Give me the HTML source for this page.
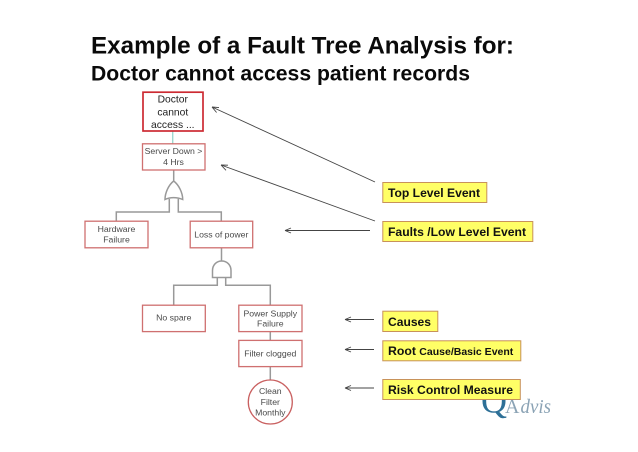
<!DOCTYPE html>
<html>
<head>
<meta charset="utf-8">
<style>
html,body{margin:0;padding:0;background:#fff;}
svg{display:block;}
text{font-family:"Liberation Sans",sans-serif;}
</style>
</head>
<body>
<svg xmlns="http://www.w3.org/2000/svg" width="638" height="452" viewBox="0 0 638 452">
<defs>
<filter id="b" x="-5%" y="-5%" width="110%" height="110%"><feGaussianBlur stdDeviation="0.35"/></filter>
</defs>
<rect width="638" height="452" fill="#fff"/>

<text x="91" y="53.5" font-size="24" font-weight="bold" fill="#0a0a0a" textLength="423" lengthAdjust="spacingAndGlyphs">Example of a Fault Tree Analysis for:</text>
<text x="91" y="80.3" font-size="21" font-weight="bold" fill="#0a0a0a" textLength="379" lengthAdjust="spacingAndGlyphs">Doctor cannot access patient records</text>

<g filter="url(#b)">
<!-- connectors -->
<g fill="none" stroke="#999" stroke-width="1.5">
<path d="M173.7 170V181"/>
<path d="M169.3 199V212H116.3V221"/>
<path d="M178.3 199V212H221.3V221"/>
<path d="M221.5 248V261"/>
<path d="M217.3 278V285.3H173.7V305"/>
<path d="M225.7 278V285.3H270.3V305"/>
<path d="M270.3 331.7V340.3"/>
<path d="M270.3 366.7V380"/>
<!-- OR gate -->
<path d="M173.7 181C179 185 182.7 193 182.7 199.5C177 197 170 197 165 199.5C165 193 168.5 185 173.7 181Z"/>
<!-- AND gate -->
<path d="M212.5 277.5V270.5C212.5 265 216.5 261 221.7 261C227 261 231 265 231 270.5V277.5Z"/>
</g>
<path d="M172.7 131V144" stroke="#9fd8d0" stroke-width="1.4"/>

<!-- boxes -->
<g fill="#fff" stroke="#cf6f6f" stroke-width="1.3">
<rect x="142.5" y="143.8" width="62.5" height="26.2"/>
<rect x="85" y="221.2" width="63" height="26.6"/>
<rect x="190.2" y="221.2" width="62.5" height="26.6"/>
<rect x="142.5" y="305.2" width="62.8" height="26.4"/>
<rect x="238.8" y="305.2" width="63.2" height="26.4"/>
<rect x="238.8" y="340.4" width="63.2" height="26.2"/>
</g>
<circle cx="270.3" cy="402" r="22" fill="#fff" stroke="#c96060" stroke-width="1.3"/>
<rect x="143" y="92.2" width="60" height="38.8" fill="#fff" stroke="#cc2a33" stroke-width="1.7"/>

<!-- tree labels -->
<g font-size="8.7" fill="#4a4a4a" text-anchor="middle">
<text x="173.5" y="154">Server Down &gt;</text>
<text x="173.5" y="165">4 Hrs</text>
<text x="116.5" y="232">Hardware</text>
<text x="116.5" y="242.4">Failure</text>
<text x="221.3" y="237.3">Loss of power</text>
<text x="173.8" y="320.7">No spare</text>
<text x="270.3" y="316.3">Power Supply</text>
<text x="270.3" y="326.7">Failure</text>
<text x="270.3" y="356.7">Filter clogged</text>
<text x="270.3" y="394">Clean</text>
<text x="270.3" y="405">Filter</text>
<text x="270.3" y="415.3">Monthly</text>
</g>
<g font-size="10.3" fill="#222" text-anchor="middle">
<text x="172.8" y="102.4">Doctor</text>
<text x="172.8" y="115.6">cannot</text>
<text x="172.8" y="128.2">access ...</text>
</g>
</g>

<!-- logo -->
<g filter="url(#b)">
<text x="481" y="412.5" font-size="36" fill="#2d6f97" style="font-family:'Liberation Serif',serif">Q</text>
<text x="505" y="413" font-size="20" fill="#8ba3b5" style="font-family:'Liberation Serif',serif">A</text>
<text x="520.5" y="413" font-size="20" font-style="italic" fill="#8ba3b5" style="font-family:'Liberation Serif',serif" textLength="30.5" lengthAdjust="spacingAndGlyphs">dvis</text>
</g>

<!-- arrows -->
<g fill="none" stroke="#444" stroke-width="0.9">
<path d="M375 182L212 107M212 107L219 107.6M212 107L216.6 112.5"/>
<path d="M375 221L221 165M221 165L228 165.2M221 165L226 170.3"/>
<path d="M370 230.5H285M285 230.5L291 228M285 230.5L291 233"/>
<path d="M374 319.5H345M345 319.5L351 317M345 319.5L351 322"/>
<path d="M374 349.5H345M345 349.5L351 347M345 349.5L351 352"/>
<path d="M374 388H345M345 388L351 385.5M345 388L351 390.5"/>
</g>

<!-- yellow callouts -->
<g fill="#ffff66" stroke="#c8925a" stroke-width="1">
<rect x="382.8" y="182.5" width="104" height="20"/>
<rect x="382.8" y="221.5" width="150" height="20"/>
<rect x="382.8" y="311.2" width="55" height="20.3"/>
<rect x="382.8" y="340.8" width="138" height="20"/>
<rect x="382.8" y="379.5" width="137.5" height="20"/>
</g>
<g font-size="12" font-weight="bold" fill="#111">
<text x="388" y="197.2" textLength="92" lengthAdjust="spacingAndGlyphs">Top Level Event</text>
<text x="388" y="236.2" textLength="138" lengthAdjust="spacingAndGlyphs">Faults /Low Level Event</text>
<text x="388" y="326" textLength="43" lengthAdjust="spacingAndGlyphs">Causes</text>
<text x="388" y="355.2" textLength="28" lengthAdjust="spacingAndGlyphs">Root</text>
<text x="419.3" y="355.2" font-size="10" textLength="94" lengthAdjust="spacingAndGlyphs">Cause/Basic Event</text>
<text x="388" y="394.2" textLength="125" lengthAdjust="spacingAndGlyphs">Risk Control Measure</text>
</g>
</svg>
</body>
</html>
